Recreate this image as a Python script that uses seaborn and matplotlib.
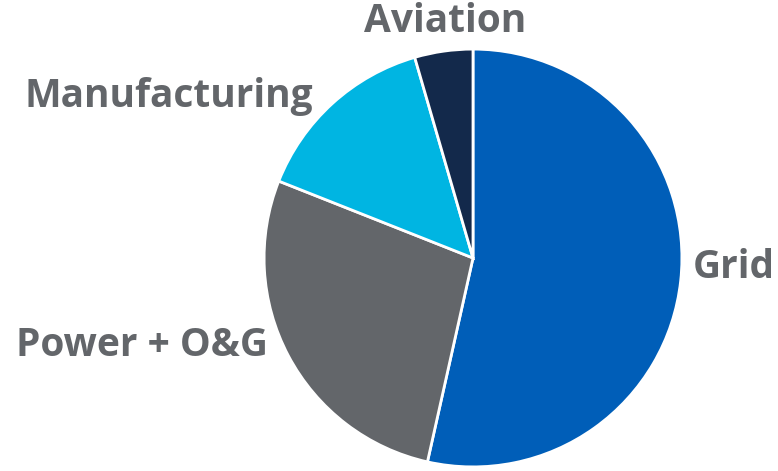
import matplotlib
matplotlib.use("Agg")
import matplotlib.pyplot as plt
import seaborn as sns

categories = ["Grid", "Power + O&G", "Manufacturing", "Aviation"]
values = [53.5, 27.5, 14.5, 4.5]
colors = ["#005EB8", "#63666A", "#00B5E2", "#13294B"]

sns.set_theme(style="white")
plt.rcParams['font.family'] = ['Open Sans', 'DejaVu Sans']

W, H = 778, 471
fig = plt.figure(figsize=(W / 100, H / 100), dpi=100)
cx, cy, r = 473, 258, 211
ax = fig.add_axes([(cx - r) / W, (H - cy - r) / H, 2 * r / W, 2 * r / H])
ax.pie(values, colors=colors, startangle=90, counterclock=False,
       wedgeprops=dict(edgecolor="white", linewidth=2), radius=1)
ax.set_xlim(-1.01, 1.01)
ax.set_ylim(-1.01, 1.01)
ax.set_aspect("equal")
ax.axis("off")

txt_color = "#63666A"
fs = 28
label_pos = {
    "Grid": (693, 268, "left"),
    "Power + O&G": (268, 345, "right"),
    "Manufacturing": (313, 97, "right"),
    "Aviation": (445, 22, "center"),
}
for cat in categories:
    x, y, ha = label_pos[cat]
    fig.text(x / W, 1 - y / H, cat, ha=ha, va="center", fontsize=fs,
             fontweight="bold", color=txt_color)

fig.savefig("out.png", dpi=100)
